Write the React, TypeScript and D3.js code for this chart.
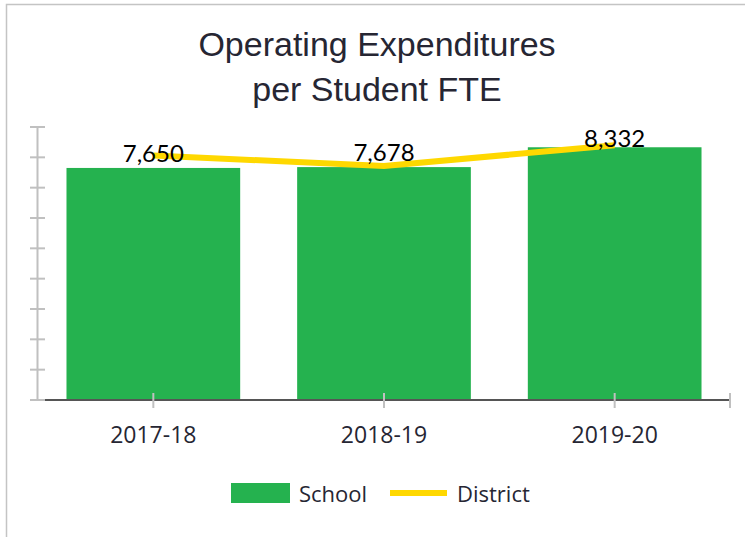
import React, { useEffect, useRef } from "react";
import * as d3 from "d3";

const years = ["2017-18", "2018-19", "2019-20"];
const schoolValues = [7650, 7678, 8332];
const districtValues = [8060, 7715, 8400];
const yTicks = [0, 1000, 2000, 3000, 4000, 5000, 6000, 7000, 8000, 9000];

const GREEN = "#25b24f";
const YELLOW = "#ffd800";
const TEXT = "#262633";

export default function App() {
  const ref = useRef<SVGSVGElement>(null);

  useEffect(() => {
    const svg = d3.select(ref.current);
    svg.selectAll("*").remove();

    const width = 745;
    const height = 537;
    const margin = { top: 127, right: 15, bottom: 137, left: 38 };
    const plotRight = width - margin.right;
    const plotBottom = height - margin.bottom;

    // outer frame
    svg
      .append("rect")
      .attr("x", 6.5)
      .attr("y", 4.5)
      .attr("width", width + 20)
      .attr("height", height + 20)
      .attr("fill", "#fff")
      .attr("stroke", "#c4c4c4")
      .attr("stroke-width", 1.5);

    // title
    const title = svg
      .append("text")
      .attr("text-anchor", "middle")
      .attr("font-family", "Liberation Sans, Arial, sans-serif")
      .attr("font-size", 34)
      .attr("fill", TEXT);
    title.append("tspan").attr("x", 377).attr("y", 56).text("Operating Expenditures");
    title.append("tspan").attr("x", 377).attr("y", 101).text("per Student FTE");

    const x = d3
      .scaleBand()
      .domain(years)
      .range([margin.left, plotRight])
      .paddingInner(0.247)
      .paddingOuter(0.1235);

    const y = d3.scaleLinear().domain([0, 9000]).range([plotBottom, margin.top]);

    // y axis
    svg
      .append("line")
      .attr("x1", margin.left - 0.5)
      .attr("x2", margin.left - 0.5)
      .attr("y1", y(9000))
      .attr("y2", y(0))
      .attr("stroke", "#c0c0c0")
      .attr("stroke-width", 2);
    svg
      .selectAll(".ytick")
      .data(yTicks)
      .enter()
      .append("line")
      .attr("x1", margin.left - 8)
      .attr("x2", margin.left + 7)
      .attr("y1", (d) => y(d))
      .attr("y2", (d) => y(d))
      .attr("stroke", "#c0c0c0")
      .attr("stroke-width", 2);

    // bars
    svg
      .selectAll(".bar")
      .data(schoolValues)
      .enter()
      .append("rect")
      .attr("x", (d, i) => x(years[i])!)
      .attr("y", (d) => y(d))
      .attr("width", x.bandwidth())
      .attr("height", (d) => plotBottom - y(d))
      .attr("fill", GREEN);

    // x axis
    svg
      .append("line")
      .attr("x1", margin.left + 7)
      .attr("x2", plotRight)
      .attr("y1", plotBottom)
      .attr("y2", plotBottom)
      .attr("stroke", "#555")
      .attr("stroke-width", 2);
    const centers = years.map((d) => x(d)! + x.bandwidth() / 2);
    svg
      .selectAll(".xtick")
      .data([...centers, plotRight])
      .enter()
      .append("line")
      .attr("x1", (d) => d)
      .attr("x2", (d) => d)
      .attr("y1", plotBottom - 7)
      .attr("y2", plotBottom + 8)
      .attr("stroke", "#c0c0c0")
      .attr("stroke-width", 2);
    svg
      .selectAll(".xlabel")
      .data(years)
      .enter()
      .append("text")
      .attr("x", (d) => x(d)! + x.bandwidth() / 2)
      .attr("y", plotBottom + 43)
      .attr("text-anchor", "middle")
      .attr("font-family", "Open Sans, sans-serif")
      .attr("font-size", 23)
      .attr("fill", TEXT)
      .text((d) => d);

    // district line
    const line = d3
      .line<number>()
      .x((d, i) => centers[i])
      .y((d) => y(d));
    svg
      .append("path")
      .datum(districtValues)
      .attr("d", line)
      .attr("fill", "none")
      .attr("stroke", YELLOW)
      .attr("stroke-width", 6);

    // value labels
    const fmt = d3.format(",");
    svg
      .selectAll(".vlabel")
      .data(schoolValues)
      .enter()
      .append("text")
      .attr("x", (d, i) => centers[i])
      .attr("y", (d) => Math.max(y(d) - 6, margin.top + 20))
      .attr("text-anchor", "middle")
      .attr("font-family", "Lato, sans-serif")
      .attr("font-size", 24)
      .attr("fill", "#000")
      .text((d) => fmt(d));

    // legend
    const legend = svg.append("g");
    legend
      .append("rect")
      .attr("x", 231)
      .attr("y", 483)
      .attr("width", 59)
      .attr("height", 20)
      .attr("fill", GREEN);
    legend
      .append("text")
      .attr("x", 299)
      .attr("y", 502)
      .attr("font-family", "Open Sans, sans-serif")
      .attr("font-size", 22)
      .attr("fill", TEXT)
      .text("School");
    legend
      .append("line")
      .attr("x1", 390)
      .attr("x2", 447)
      .attr("y1", 493)
      .attr("y2", 493)
      .attr("stroke", YELLOW)
      .attr("stroke-width", 6);
    legend
      .append("text")
      .attr("x", 457)
      .attr("y", 502)
      .attr("font-family", "Open Sans, sans-serif")
      .attr("font-size", 22)
      .attr("fill", TEXT)
      .text("District");
  }, []);

  return (
    <svg
      ref={ref}
      width={745}
      height={537}
      style={{ position: "absolute", left: 0, top: 0 }}
    />
  );
}
